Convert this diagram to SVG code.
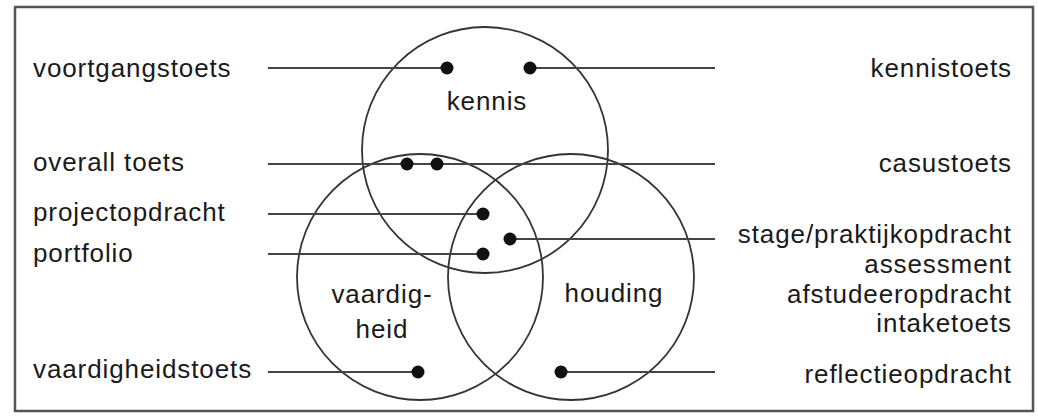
<svg xmlns="http://www.w3.org/2000/svg" width="1038" height="420" viewBox="0 0 1038 420">
<style>
.t{font-family:"Liberation Sans",Arial,sans-serif;font-size:26px;letter-spacing:0.9px;fill:#1a1a1a}
.r{text-anchor:end}
.m{text-anchor:middle}
.c{fill:none;stroke:#333;stroke-width:1.8}
.l{stroke:#444;stroke-width:2.2}
.d{fill:#111}
</style>
<rect x="15" y="7" width="1018" height="404" fill="#fff" stroke="#555" stroke-width="2.5"/>
<g id="circles">
<g id="kennis"><circle class="c" cx="485" cy="150" r="123"/><text class="t m" x="487" y="110">kennis</text></g>
<g id="vaardigheid"><circle class="c" cx="420" cy="277" r="123"/><text class="t m" x="382" y="303">vaardig-</text><text class="t m" x="382" y="338">heid</text></g>
<g id="houding"><circle class="c" cx="571" cy="277" r="123"/><text class="t m" x="614" y="302">houding</text></g>
</g>
<g id="connectors">
<line class="l" x1="268" y1="68" x2="447" y2="68"/>
<line class="l" x1="530" y1="68" x2="715" y2="68"/>
<line class="l" x1="268" y1="164" x2="715" y2="164"/>
<line class="l" x1="268" y1="214" x2="483" y2="214"/>
<line class="l" x1="268" y1="254" x2="483" y2="254"/>
<line class="l" x1="510" y1="239" x2="715" y2="239"/>
<line class="l" x1="268" y1="372" x2="418" y2="372"/>
<line class="l" x1="561" y1="372" x2="715" y2="372"/>
<circle class="d" cx="447" cy="68" r="6.5"/>
<circle class="d" cx="530" cy="68" r="6.5"/>
<circle class="d" cx="407" cy="164" r="6.5"/>
<circle class="d" cx="437" cy="164" r="6.5"/>
<circle class="d" cx="483" cy="214" r="6.5"/>
<circle class="d" cx="483" cy="254" r="6.5"/>
<circle class="d" cx="510" cy="239" r="6.5"/>
<circle class="d" cx="418" cy="372" r="6.5"/>
<circle class="d" cx="561" cy="372" r="6.5"/>
</g>
<g id="left-labels">
<text class="t" x="33" y="77">voortgangstoets</text>
<text class="t" x="33" y="171">overall toets</text>
<text class="t" x="33" y="221">projectopdracht</text>
<text class="t" x="33" y="262">portfolio</text>
<text class="t" x="33" y="378">vaardigheidstoets</text>
</g>
<g id="right-labels">
<text class="t r" x="1012" y="77">kennistoets</text>
<text class="t r" x="1012" y="172">casustoets</text>
<text class="t r" x="1012" y="243">stage/praktijkopdracht</text>
<text class="t r" x="1012" y="273">assessment</text>
<text class="t r" x="1012" y="303">afstudeeropdracht</text>
<text class="t r" x="1012" y="332">intaketoets</text>
<text class="t r" x="1012" y="383">reflectieopdracht</text>
</g>
</svg>
